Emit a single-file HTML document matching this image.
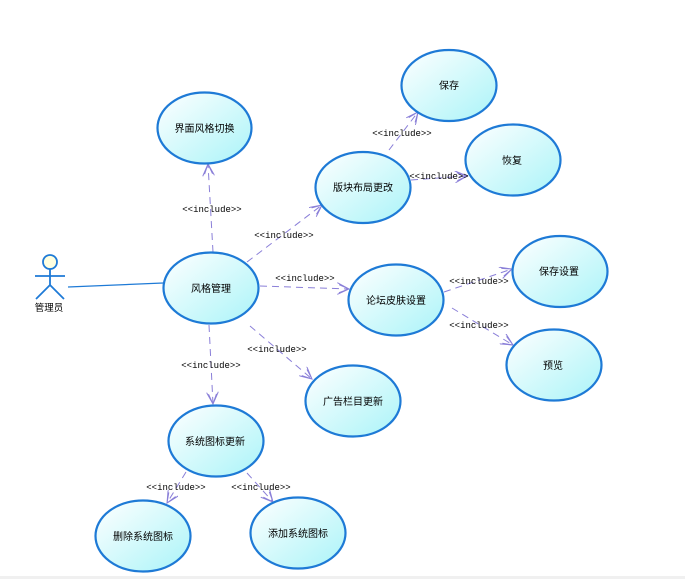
<!DOCTYPE html>
<html><head><meta charset="utf-8"><style>
html,body{margin:0;padding:0;background:#fff;width:685px;height:579px;overflow:hidden}
svg{display:block}
.t{font-family:"Liberation Sans","Noto Sans CJK SC",sans-serif;font-size:10px;fill:#000;text-anchor:middle}
.l{font-family:"Liberation Mono","DejaVu Sans Mono",monospace;font-size:9px;fill:#000;text-anchor:middle}
.c{stroke:#8a7fd8;stroke-width:1;fill:none;stroke-dasharray:7,5}
.e{fill:url(#g);stroke:#1e7ad6;stroke-width:2.2}
</style></head><body>
<svg width="685" height="579" viewBox="0 0 685 579">
<defs>
<linearGradient id="g" x1="0" y1="0" x2="1" y2="1">
<stop offset="0" stop-color="#ffffff"/><stop offset="1" stop-color="#aaf4f8"/>
</linearGradient>
<marker id="a" markerWidth="14" markerHeight="12" refX="12" refY="6" orient="auto" markerUnits="userSpaceOnUse">
<path d="M0,0 L12,6 L0,12 M2,2 L12,6 L2,10" stroke="#8a7fd8" fill="none" stroke-width="1"/>
</marker>
</defs>
<rect x="0" y="576" width="685" height="3" fill="#f0f0f0"/>
<circle cx="50" cy="262" r="7" fill="#ffffe0" stroke="#1e7ad6" stroke-width="1.8"/>
<g stroke="#1e7ad6" stroke-width="1.8" fill="none">
<line x1="50" y1="269" x2="50" y2="285"/><line x1="35" y1="276" x2="65" y2="276"/>
<line x1="50" y1="285" x2="36" y2="299"/><line x1="50" y1="285" x2="64" y2="299"/>
<line x1="68" y1="287" x2="163" y2="283" stroke-width="1.2"/>
</g>
<text class="t" x="49" y="311" style="font-size:9.5px">管理员</text>
<g class="c">
<line x1="213" y1="252" x2="208" y2="164" marker-end="url(#a)"/>
<line x1="247" y1="262" x2="322" y2="205" marker-end="url(#a)"/>
<line x1="260" y1="286" x2="349" y2="289" marker-end="url(#a)"/>
<line x1="250" y1="326" x2="312" y2="379" marker-end="url(#a)"/>
<line x1="209" y1="325" x2="213" y2="404" marker-end="url(#a)"/>
<line x1="389" y1="150" x2="418" y2="112" marker-end="url(#a)"/>
<line x1="411" y1="180" x2="467" y2="176" marker-end="url(#a)"/>
<line x1="444" y1="292" x2="512" y2="269" marker-end="url(#a)"/>
<line x1="452" y1="308" x2="513" y2="345" marker-end="url(#a)"/>
<line x1="186" y1="472" x2="167" y2="503" marker-end="url(#a)"/>
<line x1="247" y1="473" x2="273" y2="502" marker-end="url(#a)"/>
</g>
<g class="l">
<text x="212" y="212">&lt;&lt;include&gt;&gt;</text>
<text x="284" y="238">&lt;&lt;include&gt;&gt;</text>
<text x="305" y="281">&lt;&lt;include&gt;&gt;</text>
<text x="277" y="352">&lt;&lt;include&gt;&gt;</text>
<text x="211" y="368">&lt;&lt;include&gt;&gt;</text>
<text x="402" y="136">&lt;&lt;include&gt;&gt;</text>
<text x="439" y="179">&lt;&lt;include&gt;&gt;</text>
<text x="479" y="284">&lt;&lt;include&gt;&gt;</text>
<text x="479" y="328">&lt;&lt;include&gt;&gt;</text>
<text x="176" y="490">&lt;&lt;include&gt;&gt;</text>
<text x="261" y="490">&lt;&lt;include&gt;&gt;</text>
</g>
<g>
<ellipse class="e" cx="204.5" cy="128" rx="47" ry="35.5"/><text class="t" x="204.5" y="132">界面风格切换</text>
<ellipse class="e" cx="449" cy="85.5" rx="47.5" ry="35.5"/><text class="t" x="449" y="89">保存</text>
<ellipse class="e" cx="363" cy="187.5" rx="47.5" ry="35.5"/><text class="t" x="363" y="191">版块布局更改</text>
<ellipse class="e" cx="513" cy="160" rx="47.5" ry="35.5"/><text class="t" x="512" y="164">恢复</text>
<ellipse class="e" cx="211" cy="288" rx="47.5" ry="35.5"/><text class="t" x="211" y="292">风格管理</text>
<ellipse class="e" cx="396" cy="300" rx="47.5" ry="35.5"/><text class="t" x="396" y="304">论坛皮肤设置</text>
<ellipse class="e" cx="560" cy="271.5" rx="47.5" ry="35.5"/><text class="t" x="559" y="275">保存设置</text>
<ellipse class="e" cx="554" cy="365" rx="47.5" ry="35.5"/><text class="t" x="553" y="369">预览</text>
<ellipse class="e" cx="353" cy="401" rx="47.5" ry="35.5"/><text class="t" x="353" y="405">广告栏目更新</text>
<ellipse class="e" cx="216" cy="441" rx="47.5" ry="35.5"/><text class="t" x="215" y="445">系统图标更新</text>
<ellipse class="e" cx="143" cy="536" rx="47.5" ry="35.5"/><text class="t" x="143" y="540">删除系统图标</text>
<ellipse class="e" cx="298" cy="533" rx="47.5" ry="35.5"/><text class="t" x="298" y="537">添加系统图标</text>
</g>
</svg>
</body></html>
